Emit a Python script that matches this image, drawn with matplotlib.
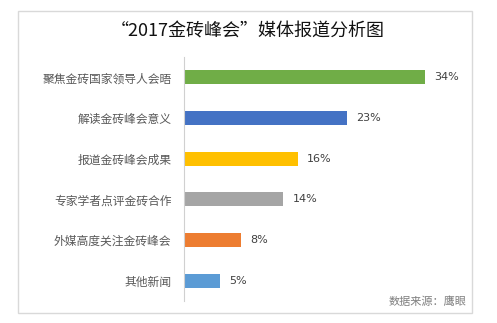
import matplotlib.pyplot as plt
from matplotlib.patches import Rectangle

plt.rcParams['font.family'] = ['Noto Sans CJK SC', 'DejaVu Sans']

categories = ['聚焦金砖国家领导人会晤', '解读金砖峰会意义', '报道金砖峰会成果',
              '专家学者点评金砖合作', '外媒高度关注金砖峰会', '其他新闻']
values = [34, 23, 16, 14, 8, 5]
colors = ['#70AD47', '#4472C4', '#FFC000', '#A5A5A5', '#ED7D31', '#5B9BD5']
title = '“2017金砖峰会”媒体报道分析图'
source = '数据来源：鹰眼'

W, H = 497, 323
fig = plt.figure(figsize=(W / 100, H / 100), dpi=100)
fig.patch.set_facecolor('white')

# chart frame
fig.patches.append(Rectangle((18 / W, 1 - 313 / H), (472 - 18) / W, (313 - 11) / H,
                             transform=fig.transFigure, fill=False,
                             edgecolor='#D9D9D9', linewidth=1))

ax = fig.add_axes([184 / W, 1 - 301 / H, (468 - 184) / W, (301 - 57) / H])
y = list(range(len(categories)))
ax.barh(y, values, height=0.34, color=colors)
ax.set_ylim(len(categories) - 0.5, -0.5)
ax.set_xlim(0, 40)
ax.set_yticks(y)
ax.set_yticklabels(categories, fontsize=8.5, color='#595959')
ax.tick_params(axis='y', length=0, pad=9)
ax.set_xticks([])
for s in ['top', 'right', 'bottom']:
    ax.spines[s].set_visible(False)
ax.spines['left'].set_color('#D0D0D0')
for yi, v in zip(y, values):
    ax.text(v + 1.3, yi, f'{v}%', va='center', ha='left', fontsize=8,
            color='#404040', family=['DejaVu Sans'])

fig.text(248 / W, 1 - 31 / H, title, ha='center', va='center', fontsize=13,
         color='#111111', fontweight='medium')
fig.text(466 / W, 1 - 302 / H, source, ha='right', va='center', fontsize=8,
         color='#7F7F7F')

fig.savefig('out.png', dpi=100, facecolor='white')
